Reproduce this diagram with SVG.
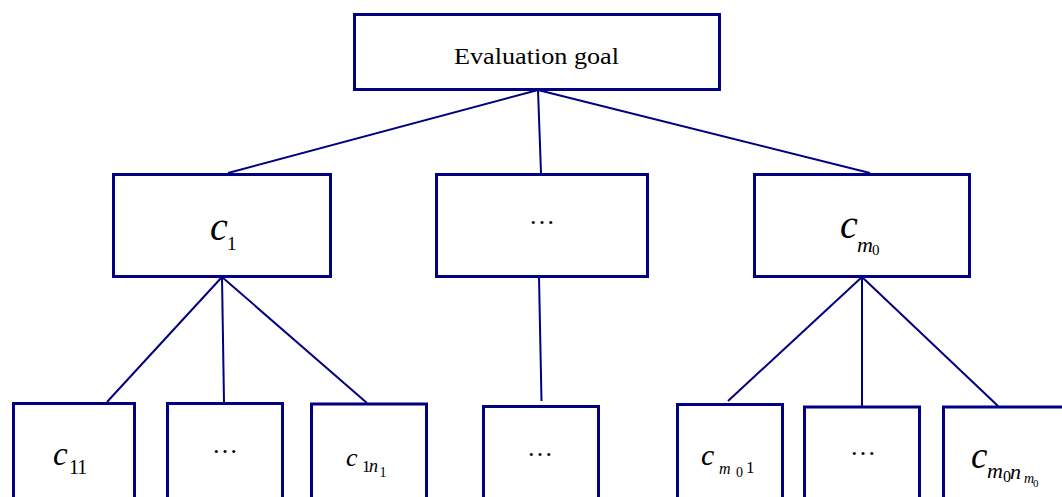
<svg xmlns="http://www.w3.org/2000/svg" width="1062" height="497" viewBox="0 0 1062 497">
<style>
.box{fill:#fff;stroke:#000080;stroke-width:3}
.con line{stroke:#000080;stroke-width:2}
.t{font-family:"Liberation Serif","Times New Roman",serif;fill:#000}
.i{font-style:italic}
</style>
<rect width="1062" height="497" fill="#fff"/>
<g id="connectors" class="con">
<line x1="538" y1="90" x2="228" y2="173"/>
<line x1="538" y1="90" x2="541" y2="173"/>
<line x1="538" y1="90" x2="870" y2="173"/>
<line x1="222" y1="277" x2="107" y2="402"/>
<line x1="222" y1="277" x2="224" y2="402"/>
<line x1="222" y1="277" x2="367" y2="403"/>
<line x1="539" y1="277" x2="541.5" y2="401"/>
<line x1="862" y1="277" x2="728" y2="401"/>
<line x1="862" y1="277" x2="862" y2="406"/>
<line x1="862" y1="277" x2="998" y2="406"/>
</g>
<g id="goal">
<rect class="box" x="354.5" y="14.5" width="365" height="75"/>
<text class="t" x="454" y="64" font-size="24" textLength="165" lengthAdjust="spacingAndGlyphs">Evaluation goal</text>
</g>
<g id="c1">
<rect class="box" x="113.5" y="174.5" width="217" height="102"/>
<text class="t i" x="210" y="240" font-size="40">c</text>
<text class="t" x="227" y="250" font-size="19">1</text>
</g>
<g id="cmid">
<rect class="box" x="436.5" y="174.5" width="211" height="102"/>
<text class="t" x="529" y="224" font-size="26">…</text>
</g>
<g id="cm0">
<rect class="box" x="754.5" y="174.5" width="215" height="102"/>
<text class="t i" x="840" y="238" font-size="40">c</text>
<text class="t i" x="857" y="252" font-size="22">m</text>
<text class="t" x="872" y="255" font-size="15">0</text>
</g>
<g id="c11">
<rect class="box" x="13.5" y="403.5" width="121" height="100"/>
<text class="t i" x="53" y="465" font-size="33">c</text>
<text class="t" x="69" y="474" font-size="20" letter-spacing="-1">11</text>
</g>
<g id="c1dots">
<rect class="box" x="167.5" y="403.5" width="115" height="100"/>
<text class="t" x="212" y="453" font-size="26">…</text>
</g>
<g id="c1n1">
<rect class="box" x="311.5" y="404" width="115" height="100"/>
<text class="t i" x="346" y="466" font-size="26">c</text>
<text class="t" x="362" y="472" font-size="17">1</text>
<text class="t i" x="369" y="472" font-size="18">n</text>
<text class="t" x="379.5" y="477" font-size="14">1</text>
</g>
<g id="middots">
<rect class="box" x="483.5" y="406.5" width="115" height="100"/>
<text class="t" x="527" y="456" font-size="26">…</text>
</g>
<g id="cm01">
<rect class="box" x="677.5" y="404.5" width="105" height="100"/>
<text class="t i" x="701" y="465" font-size="30">c</text>
<text class="t i" x="719" y="474" font-size="16">m</text>
<text class="t" x="736" y="477" font-size="14">0</text>
<text class="t" x="746" y="473" font-size="17">1</text>
</g>
<g id="cmdots">
<rect class="box" x="804.5" y="407" width="115" height="100"/>
<text class="t" x="850" y="455" font-size="26">…</text>
</g>
<g id="cm0nm0">
<rect class="box" x="943.5" y="407" width="130" height="100"/>
<text class="t i" x="971" y="468" font-size="37">c</text>
<text class="t i" x="987" y="478" font-size="22">m</text>
<text class="t" x="1003" y="482" font-size="16">0</text>
<text class="t i" x="1010" y="479" font-size="22">n</text>
<text class="t i" x="1024" y="483" font-size="14">m</text>
<text class="t" x="1033" y="487" font-size="11">0</text>
</g>
</svg>
